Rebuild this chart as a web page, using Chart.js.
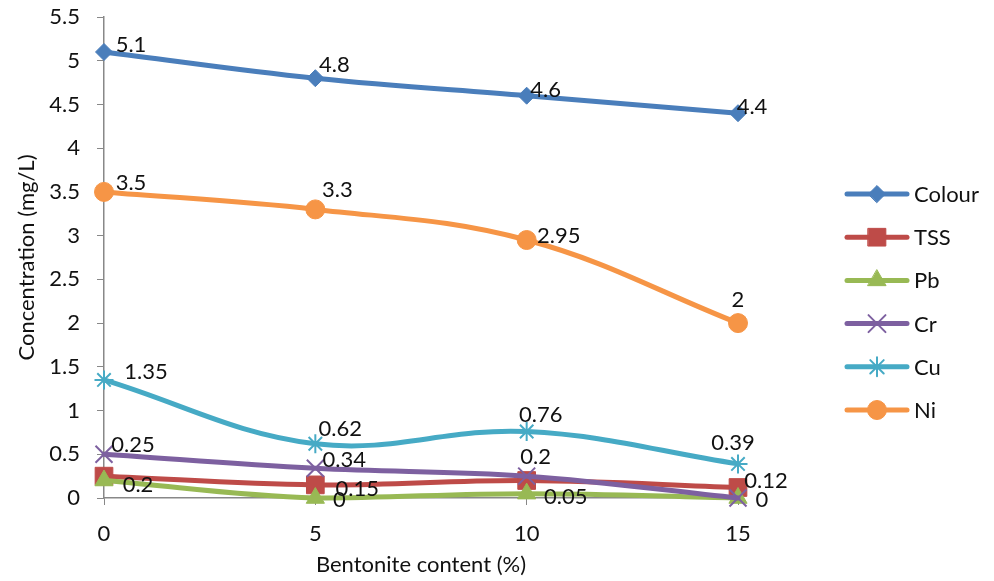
<!DOCTYPE html>
<html>
<head>
<meta charset="utf-8">
<title>Concentration vs bentonite content</title>
<script src="https://cdn.jsdelivr.net/npm/chart.js@4/dist/chart.umd.min.js"></script>
<style>
  html, body { margin: 0; padding: 0; background: #fff; }
  #wrap { width: 994px; height: 581px; position: relative; }
</style>
</head>
<body>
<div id="wrap"><canvas id="chart"></canvas></div>
<script>
// Bentonite content (%) on the x axis
const categories = ['0', '5', '10', '15'];

// Concentrations (mg/L) per parameter
const colourVals = [5.1, 4.8, 4.6, 4.4];
const tssVals    = [0.25, 0.15, 0.2, 0.12];
const pbVals     = [0.2, 0, 0.05, 0];
const crVals     = [0.5, 0.34, 0.25, 0];
const cuVals     = [1.35, 0.62, 0.76, 0.39];
const niVals     = [3.5, 3.3, 2.95, 2];

const seriesNames = ['Colour', 'TSS', 'Pb', 'Cr', 'Cu', 'Ni'];

// Which points carry a value label
const showLabel = {
  Colour: [true, true, true, true],
  TSS:    [true, true, true, true],
  Pb:     [true, true, true, true],
  Cr:     [false, true, false, false],
  Cu:     [true, true, true, true],
  Ni:     [true, true, true, true]
};

// Label placement relative to the point (pixels, text centre)
const labelOffsets = {
  Colour: [[27, -7], [19, -13], [19, -6], [14, -6]],
  TSS:    [[29, -31], [42, 4], [9, -24], [28, -7]],
  Pb:     [[34, 4], [24, 2], [39, 3], [24, 2]],
  Cr:     [[0, 0], [29, -8], [0, 0], [0, 0]],
  Cu:     [[42, -8], [25, -15], [14, -17], [-5, -21]],
  Ni:     [[27, -9], [22, -19], [32, -4], [0, -23]]
};

const styles = {
  Colour: { color: '#4A7EBB', point: 'rectRot', radius: 8.5 },
  TSS:    { color: '#BE4B48', point: 'rect',    radius: 12.5 },
  Pb:     { color: '#98B954', point: 'triangle', radius: 10.5 },
  Cr:     { color: '#7D60A0', point: 'crossRot', radius: 12 },
  Cu:     { color: '#46AAC5', point: 'star',    radius: 9.5 },
  Ni:     { color: '#F69546', point: 'circle',  radius: 9.5 }
};

const valuesByName = {
  Colour: colourVals, TSS: tssVals, Pb: pbVals, Cr: crVals, Cu: cuVals, Ni: niVals
};

const FONT = 'Lato, "Open Sans", sans-serif';
const FONT_SIZE = 22;

const datasets = seriesNames.map((name, i) => {
  const s = styles[name];
  return {
    label: name,
    data: valuesByName[name],
    borderColor: s.color,
    backgroundColor: s.color,
    pointBackgroundColor: s.color,
    pointBorderColor: s.color,
    pointBorderWidth: (s.point === 'crossRot' || s.point === 'star') ? 2 : 1,
    pointStyle: s.point,
    pointRadius: s.radius,
    pointHoverRadius: s.radius,
    borderWidth: 5,
    borderCapStyle: 'round',
    borderJoinStyle: 'round',
    tension: 0.38,
    clip: false,
    order: seriesNames.length - i
  };
});

// Value labels next to points
const valueLabels = {
  id: 'valueLabels',
  afterDatasetsDraw(chart) {
    const ctx = chart.ctx;
    ctx.save();
    ctx.font = FONT_SIZE + 'px ' + FONT;
    ctx.fillStyle = '#111';
    ctx.textAlign = 'center';
    ctx.textBaseline = 'middle';
    chart.data.datasets.forEach((ds, di) => {
      const meta = chart.getDatasetMeta(di);
      meta.data.forEach((pt, i) => {
        if (!showLabel[ds.label][i]) return;
        const off = labelOffsets[ds.label][i];
        ctx.fillText(String(ds.data[i]), pt.x + off[0], pt.y + off[1]);
      });
    });
    ctx.restore();
  }
};

// Legend on the right: line segment with marker, then name
const sideLegend = {
  id: 'sideLegend',
  afterDraw(chart) {
    const ctx = chart.ctx;
    const x0 = 847, x1 = 907, xm = 877, tx = 914;
    const yStart = 194, step = 43.2;
    ctx.save();
    chart.data.datasets.forEach((ds, i) => {
      const y = yStart + i * step;
      ctx.strokeStyle = ds.borderColor;
      ctx.lineWidth = 5;
      ctx.lineCap = 'round';
      ctx.beginPath();
      ctx.moveTo(x0, y);
      ctx.lineTo(x1, y);
      ctx.stroke();
      ctx.fillStyle = ds.pointBackgroundColor;
      ctx.strokeStyle = ds.pointBorderColor;
      ctx.lineWidth = ds.pointBorderWidth;
      Chart.helpers.drawPoint(ctx, {
        pointStyle: ds.pointStyle,
        radius: ds.pointRadius,
        rotation: 0,
        borderWidth: ds.pointBorderWidth
      }, xm, y);
      ctx.fillStyle = '#111';
      ctx.font = FONT_SIZE + 'px ' + FONT;
      ctx.textAlign = 'left';
      ctx.textBaseline = 'middle';
      ctx.fillText(ds.label, tx, y + 1);
    });
    ctx.restore();
  }
};

new Chart(document.getElementById('chart'), {
  type: 'line',
  data: { labels: categories, datasets },
  options: {
    responsive: true,
    maintainAspectRatio: false,
    animation: false,
    events: [],
    layout: { padding: { top: 17, right: 256, left: 0, bottom: 0 } },
    plugins: {
      legend: { display: false },
      tooltip: { enabled: false }
    },
    scales: {
      x: {
        type: 'category',
        offset: false,
        afterFit(scale) { scale.height = 83; scale.paddingRight = 0; scale.paddingLeft = 0; },
        grid: { drawOnChartArea: false, drawTicks: true, tickLength: 7, color: '#888' },
        border: { color: '#888', width: 1.5 },
        ticks: { color: '#111', font: { size: FONT_SIZE, family: FONT }, padding: 16, maxRotation: 0 },
        title: {
          display: true,
          text: 'Bentonite content (%)',
          color: '#111',
          font: { size: FONT_SIZE, family: FONT },
          padding: { top: 0, bottom: 3 }
        }
      },
      y: {
        min: 0,
        max: 5.5,
        afterFit(scale) { scale.width = 104; scale.paddingTop = 0; scale.paddingBottom = 0; },
        grid: { drawOnChartArea: false, drawTicks: true, tickLength: 7, color: '#888' },
        border: { color: '#888', width: 1.5 },
        ticks: {
          stepSize: 0.5,
          color: '#111',
          font: { size: FONT_SIZE, family: FONT },
          padding: 17,
          callback: (v) => String(Number(v.toFixed(1)))
        },
        title: {
          display: true,
          text: 'Concentration (mg/L)',
          color: '#111',
          font: { size: FONT_SIZE, family: FONT },
          padding: { top: 14, bottom: 0 }
        }
      }
    }
  },
  plugins: [valueLabels, sideLegend]
});
</script>
</body>
</html>
